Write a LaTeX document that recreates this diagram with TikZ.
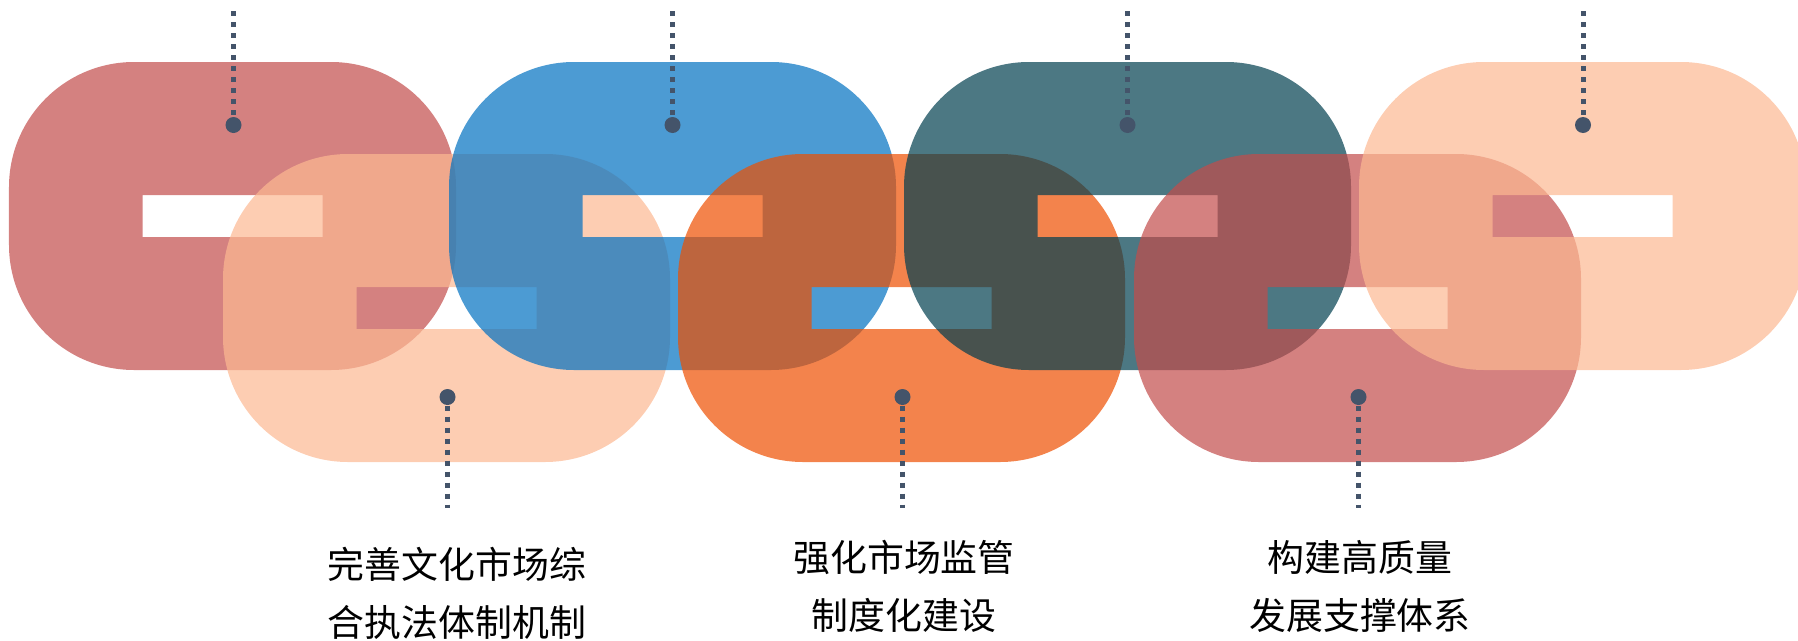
\documentclass[tikz,border=0pt]{standalone}
\usepackage{fontspec}
\newfontfamily\cjk{Noto Sans CJK SC}
\definecolor{rose}{HTML}{C24B4A}
\definecolor{peach}{HTML}{FCB892}
\definecolor{lnkblue}{HTML}{0070C0}
\definecolor{lnkorange}{HTML}{EE4F00}
\definecolor{lnkteal}{HTML}{003E4F}
\definecolor{dotcol}{HTML}{44546A}
\begin{document}
\begin{tikzpicture}[line join=round,
	chain/.style={fill opacity=0.7,even odd rule,rounded corners=1.25cm},
	leader/.style={draw=dotcol,line width=0.05cm,dash pattern=on 0.05cm off 0.06cm},
	knob/.style={circle,fill=dotcol,inner sep=0pt,minimum size=0.16cm},
	txt/.style={align=center,inner sep=0pt,font=\cjk\fontsize{10.5}{16.5}\selectfont}]
	\useasboundingbox (0,0) rectangle (17.98,6.40);
	\clip (0,0) rectangle (17.98,6.40);
	% chain links, left to right
	\fill[chain,rose] (0.09,5.78) rectangle ++(4.47,-3.08) [sharp corners] (1.425,4.45) rectangle ++(1.8,-0.42);
	\fill[chain,peach] (2.23,4.86) rectangle ++(4.47,-3.08) [sharp corners] (3.565,3.53) rectangle ++(1.8,-0.42);
	\fill[chain,lnkblue] (4.49,5.78) rectangle ++(4.47,-3.08) [sharp corners] (5.825,4.45) rectangle ++(1.8,-0.42);
	\fill[chain,lnkorange] (6.78,4.86) rectangle ++(4.47,-3.08) [sharp corners] (8.115,3.53) rectangle ++(1.8,-0.42);
	\fill[chain,lnkteal] (9.04,5.78) rectangle ++(4.47,-3.08) [sharp corners] (10.375,4.45) rectangle ++(1.8,-0.42);
	\fill[chain,rose] (11.34,4.86) rectangle ++(4.47,-3.08) [sharp corners] (12.675,3.53) rectangle ++(1.8,-0.42);
	\fill[chain,peach] (13.59,5.78) rectangle ++(4.47,-3.08) [sharp corners] (14.925,4.45) rectangle ++(1.8,-0.42);
	% leaders on top
	\node[knob] (d1) at (2.335,5.15) {};
	\node[knob] (d3) at (6.725,5.15) {};
	\node[knob] (d5) at (11.275,5.15) {};
	\node[knob] (d7) at (15.83,5.15) {};
	\coordinate (t1) at (2.335,6.29);
	\coordinate (t3) at (6.725,6.29);
	\coordinate (t5) at (11.275,6.29);
	\coordinate (t7) at (15.83,6.29);
	\draw[leader] (t1)--(d1);
	\draw[leader] (t3)--(d3);
	\draw[leader] (t5)--(d5);
	\draw[leader] (t7)--(d7);
	% leaders below
	\node[knob] (d2) at (4.475,2.43) {};
	\node[knob] (d4) at (9.025,2.43) {};
	\node[knob] (d6) at (13.585,2.43) {};
	\coordinate (b2) at (4.475,1.32);
	\coordinate (b4) at (9.025,1.32);
	\coordinate (b6) at (13.585,1.32);
	\draw[leader] (d2)--(b2);
	\draw[leader] (d4)--(b4);
	\draw[leader] (d6)--(b6);
	% labels
	\node[txt] (l2) at (4.57,0.47) {完善文化市场综\\合执法体制机制};
	\node[txt] (l4) at (9.04,0.54) {强化市场监管\\制度化建设};
	\node[txt] (l6) at (13.60,0.54) {构建高质量\\发展支撑体系};
\end{tikzpicture}
\end{document}
